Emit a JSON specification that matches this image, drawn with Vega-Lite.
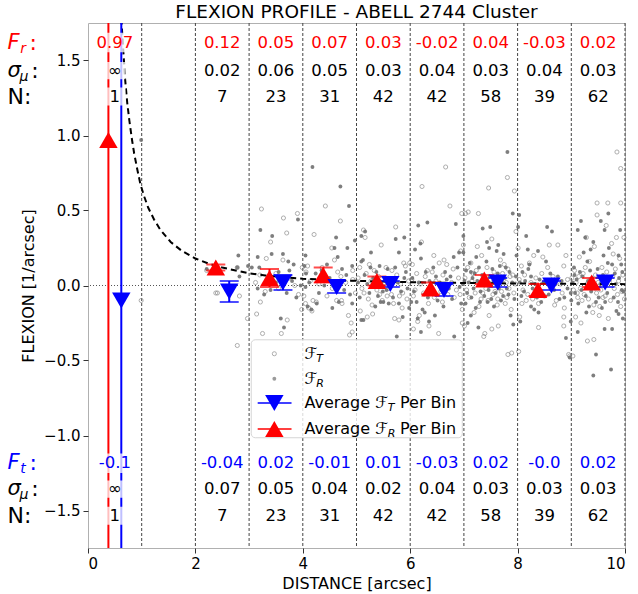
{
"$schema": "https://vega.github.io/schema/vega-lite/v6.json",
"width": 537, "height": 525,
"autosize": {"type": "none"},
"padding": {"left": 88, "top": 23, "right": 13, "bottom": 46},
"title": {"text": "FLEXION PROFILE - ABELL 2744 Cluster", "font": "DejaVu Sans", "fontSize": 18.5, "fontWeight": "normal", "color": "#000", "offset": 1},
"config": {
  "view": {"stroke": "#b0b0b0"},
  "axis": {"labelFont": "DejaVu Sans", "labelFontSize": 15, "titleFont": "DejaVu Sans", "titleFontSize": 16, "titleFontWeight": "normal", "labelColor": "#000", "titleColor": "#000", "tickColor": "#333", "tickSize": 5, "domain": false, "grid": false}
},
"datasets": {
  "bins": [{"v":1},{"v":2},{"v":3},{"v":4},{"v":5},{"v":6},{"v":7},{"v":8},{"v":9},{"v":10}],
  "zero": [{"h":0}],
  "curve": [{"x":0.62,"y":1.78},{"x":0.66,"y":1.55},{"x":0.69,"y":1.38},{"x":0.73,"y":1.22},{"x":0.77,"y":1.1},{"x":0.82,"y":0.97},{"x":0.86,"y":0.88},{"x":0.92,"y":0.77},{"x":0.98,"y":0.67},{"x":1.05,"y":0.59},{"x":1.12,"y":0.52},{"x":1.23,"y":0.44},{"x":1.35,"y":0.37},{"x":1.54,"y":0.29},{"x":1.75,"y":0.23},{"x":2.0,"y":0.18},{"x":2.25,"y":0.145},{"x":2.5,"y":0.12},{"x":2.75,"y":0.1},{"x":3.0,"y":0.082},{"x":3.3,"y":0.067},{"x":3.6,"y":0.056},{"x":4.0,"y":0.045},{"x":4.5,"y":0.037},{"x":5.0,"y":0.031},{"x":5.5,"y":0.026},{"x":6.0,"y":0.022},{"x":6.5,"y":0.019},{"x":7.0,"y":0.017},{"x":7.5,"y":0.015},{"x":8.0,"y":0.013},{"x":8.5,"y":0.012},{"x":9.0,"y":0.011},{"x":9.5,"y":0.01},{"x":10.0,"y":0.009}],
  "ft": [
{"x":0.99,"y":-0.1},
{"x":2.21,"y":0.1},{"x":2.38,"y":-0.05},{"x":2.41,"y":-0.05},{"x":2.78,"y":0.12},{"x":2.82,"y":-0.07},{"x":2.78,"y":-0.4},{"x":2.97,"y":-0.22},
{"x":3.23,"y":0.51},{"x":3.64,"y":0.45},{"x":3.7,"y":0.35},{"x":3.9,"y":0.48},{"x":3.4,"y":0.29},{"x":3.32,"y":0.18},{"x":3.63,"y":0.17},{"x":3.99,"y":0.12},{"x":3.2,"y":0.07},{"x":3.21,"y":-0.11},{"x":3.14,"y":-0.19},{"x":3.71,"y":-0.23},{"x":3.25,"y":-0.32},{"x":3.6,"y":-0.32},{"x":3.98,"y":-0.16},{"x":3.45,"y":0.03},{"x":3.55,"y":-0.02},{"x":3.75,"y":0.05},{"x":3.85,"y":0.0},{"x":3.5,"y":0.08},{"x":3.3,"y":-0.04},{"x":3.92,"y":-0.06},{"x":3.12,"y":0.02},
{"x":4.42,"y":0.53},{"x":4.7,"y":0.43},{"x":4.21,"y":0.34},{"x":4.54,"y":0.25},{"x":4.59,"y":0.17},{"x":4.09,"y":0.13},{"x":4.06,"y":0.09},{"x":4.65,"y":0.09},{"x":4.71,"y":0.06},{"x":4.93,"y":0.1},{"x":4.93,"y":0.04},{"x":4.45,"y":-0.07},{"x":4.05,"y":-0.12},{"x":4.17,"y":-0.17},{"x":4.11,"y":-0.15},{"x":4.73,"y":-0.12},{"x":4.85,"y":-0.2},{"x":4.9,"y":-0.25},{"x":4.92,"y":-0.31},{"x":4.02,"y":-0.07},{"x":4.19,"y":-0.1},{"x":4.25,"y":-0.11},{"x":4.63,"y":-0.1},{"x":4.72,"y":-0.1},{"x":4.87,"y":-0.33},{"x":4.36,"y":0.12},{"x":4.8,"y":0.02},{"x":4.3,"y":0.01},{"x":4.55,"y":-0.02},{"x":4.14,"y":0.03},{"x":4.98,"y":-0.05},
{"x":5.13,"y":0.37},{"x":5.16,"y":0.32},{"x":5.73,"y":0.39},{"x":5.46,"y":0.27},{"x":5.24,"y":0.14},{"x":5.66,"y":0.1},{"x":5.06,"y":0.12},{"x":5.88,"y":0.15},{"x":5.35,"y":0.0},{"x":5.14,"y":-0.05},{"x":5.43,"y":-0.06},{"x":5.57,"y":-0.07},{"x":5.65,"y":-0.06},{"x":5.29,"y":-0.13},{"x":5.8,"y":-0.07},{"x":5.85,"y":-0.15},{"x":5.07,"y":-0.17},{"x":5.3,"y":-0.19},{"x":5.2,"y":-0.21},{"x":5.71,"y":-0.22},{"x":5.79,"y":-0.23},{"x":5.86,"y":-0.05},{"x":5.99,"y":0.15},{"x":5.91,"y":0.13},{"x":5.03,"y":0.05},{"x":5.1,"y":-0.02},{"x":5.18,"y":0.08},{"x":5.22,"y":-0.09},{"x":5.27,"y":0.03},{"x":5.33,"y":0.1},{"x":5.38,"y":-0.03},{"x":5.41,"y":0.06},{"x":5.48,"y":-0.1},{"x":5.52,"y":0.02},{"x":5.55,"y":0.12},{"x":5.6,"y":-0.02},{"x":5.63,"y":0.04},{"x":5.69,"y":-0.12},{"x":5.75,"y":0.07},{"x":5.82,"y":0.01},{"x":5.94,"y":-0.09},{"x":5.97,"y":0.03},
{"x":6.66,"y":0.79},{"x":6.22,"y":0.66},{"x":6.74,"y":0.53},{"x":6.96,"y":0.48},{"x":6.21,"y":0.29},{"x":6.63,"y":0.17},{"x":6.54,"y":0.15},{"x":6.68,"y":0.14},{"x":6.32,"y":0.1},{"x":6.99,"y":0.27},{"x":6.94,"y":0.23},{"x":6.04,"y":0.14},{"x":6.19,"y":0.01},{"x":6.06,"y":-0.07},{"x":6.34,"y":-0.12},{"x":6.6,"y":-0.11},{"x":6.82,"y":-0.08},{"x":6.17,"y":-0.2},{"x":6.14,"y":-0.24},{"x":6.35,"y":-0.27},{"x":6.06,"y":-0.29},{"x":6.53,"y":-0.32},{"x":6.97,"y":-0.16},{"x":6.97,"y":-0.25},{"x":6.93,"y":-0.06},{"x":6.03,"y":0.04},{"x":6.09,"y":-0.03},{"x":6.12,"y":0.08},{"x":6.25,"y":-0.05},{"x":6.28,"y":0.06},{"x":6.38,"y":-0.02},{"x":6.41,"y":0.09},{"x":6.45,"y":-0.08},{"x":6.48,"y":0.03},{"x":6.57,"y":-0.04},{"x":6.61,"y":0.07},{"x":6.7,"y":-0.06},{"x":6.77,"y":0.02},{"x":6.8,"y":0.11},{"x":6.86,"y":-0.03},{"x":6.9,"y":0.05},{"x":6.44,"y":0.2},
{"x":7.81,"y":0.72},{"x":7.46,"y":0.65},{"x":7.94,"y":0.63},{"x":7.08,"y":0.49},{"x":7.03,"y":0.48},{"x":7.27,"y":0.48},{"x":7.97,"y":0.36},{"x":7.52,"y":0.31},{"x":7.25,"y":0.26},{"x":7.13,"y":0.15},{"x":7.33,"y":0.2},{"x":7.75,"y":0.14},{"x":7.91,"y":0.07},{"x":7.82,"y":0.11},{"x":7.35,"y":-0.05},{"x":7.58,"y":-0.04},{"x":7.28,"y":-0.14},{"x":7.19,"y":-0.18},{"x":7.47,"y":-0.2},{"x":7.63,"y":-0.09},{"x":7.8,"y":-0.08},{"x":7.39,"y":-0.32},{"x":7.37,"y":-0.34},{"x":7.52,"y":-0.29},{"x":7.64,"y":-0.27},{"x":7.82,"y":-0.46},{"x":7.89,"y":-0.45},{"x":7.01,"y":-0.27},{"x":7.02,"y":0.05},{"x":7.05,"y":-0.03},{"x":7.07,"y":0.12},{"x":7.1,"y":-0.08},{"x":7.15,"y":0.03},{"x":7.17,"y":0.08},{"x":7.21,"y":-0.05},{"x":7.23,"y":0.1},{"x":7.3,"y":0.02},{"x":7.32,"y":-0.09},{"x":7.36,"y":0.06},{"x":7.41,"y":-0.02},{"x":7.43,"y":0.12},{"x":7.45,"y":-0.1},{"x":7.49,"y":0.04},{"x":7.54,"y":-0.06},{"x":7.56,"y":0.09},{"x":7.6,"y":0.01},{"x":7.62,"y":-0.13},{"x":7.66,"y":0.05},{"x":7.68,"y":0.17},{"x":7.7,"y":-0.04},{"x":7.72,"y":0.08},{"x":7.77,"y":-0.12},{"x":7.79,"y":0.02},{"x":7.84,"y":-0.02},{"x":7.86,"y":0.06},{"x":7.88,"y":-0.16},{"x":7.93,"y":-0.05},{"x":7.96,"y":0.01},
{"x":8.59,"y":0.27},{"x":8.75,"y":0.27},{"x":8.9,"y":0.2},{"x":8.3,"y":0.2},{"x":8.47,"y":0.19},{"x":8.01,"y":0.25},{"x":8.07,"y":0.13},{"x":8.22,"y":0.15},{"x":8.86,"y":0.13},{"x":8.56,"y":0.12},{"x":8.08,"y":-0.12},{"x":8.16,"y":-0.1},{"x":8.39,"y":-0.12},{"x":8.72,"y":-0.1},{"x":8.04,"y":-0.21},{"x":8.87,"y":-0.15},{"x":8.86,"y":-0.21},{"x":8.86,"y":-0.27},{"x":8.39,"y":-0.28},{"x":8.02,"y":-0.44},{"x":8.95,"y":-0.46},{"x":8.97,"y":-0.47},{"x":8.03,"y":0.04},{"x":8.1,"y":-0.03},{"x":8.13,"y":0.07},{"x":8.19,"y":-0.06},{"x":8.25,"y":0.02},{"x":8.28,"y":-0.09},{"x":8.34,"y":0.05},{"x":8.42,"y":-0.04},{"x":8.45,"y":0.08},{"x":8.5,"y":-0.07},{"x":8.53,"y":0.03},{"x":8.62,"y":-0.02},{"x":8.66,"y":0.06},{"x":8.69,"y":-0.13},{"x":8.8,"y":0.01},{"x":8.83,"y":-0.05},{"x":8.93,"y":0.04},
{"x":9.85,"y":0.89},{"x":9.92,"y":0.78},{"x":9.48,"y":0.55},{"x":9.68,"y":0.55},{"x":9.92,"y":0.55},{"x":9.48,"y":0.47},{"x":9.84,"y":0.32},{"x":9.28,"y":0.32},{"x":9.43,"y":0.26},{"x":9.75,"y":0.28},{"x":9.98,"y":0.32},{"x":9.15,"y":0.19},{"x":9.34,"y":0.16},{"x":9.78,"y":0.21},{"x":9.57,"y":0.12},{"x":9.11,"y":-0.05},{"x":9.2,"y":-0.1},{"x":9.59,"y":-0.08},{"x":9.42,"y":-0.13},{"x":9.53,"y":-0.14},{"x":9.92,"y":-0.14},{"x":9.18,"y":-0.25},{"x":9.4,"y":-0.18},{"x":9.69,"y":-0.22},{"x":9.3,"y":-0.37},{"x":9.42,"y":-0.36},{"x":9.08,"y":-0.21},{"x":9.03,"y":-0.47},{"x":9.01,"y":0.05},{"x":9.04,"y":-0.03},{"x":9.06,"y":0.1},{"x":9.09,"y":0.02},{"x":9.12,"y":-0.08},{"x":9.14,"y":0.06},{"x":9.17,"y":-0.02},{"x":9.22,"y":0.08},{"x":9.24,"y":-0.06},{"x":9.26,"y":0.12},{"x":9.29,"y":0.01},{"x":9.32,"y":-0.09},{"x":9.36,"y":0.04},{"x":9.38,"y":-0.02},{"x":9.45,"y":0.07},{"x":9.47,"y":-0.05},{"x":9.5,"y":0.02},{"x":9.55,"y":-0.03},{"x":9.61,"y":0.05},{"x":9.63,"y":-0.07},{"x":9.66,"y":0.09},{"x":9.71,"y":0.02},{"x":9.73,"y":-0.1},{"x":9.77,"y":0.06},{"x":9.8,"y":-0.02},{"x":9.82,"y":0.11},{"x":9.86,"y":-0.06},{"x":9.88,"y":0.03},{"x":9.9,"y":0.18},{"x":9.94,"y":-0.04},{"x":9.96,"y":0.07},{"x":9.99,"y":-0.09},{"x":9.52,"y":-0.2},{"x":9.65,"y":0.4}
  ],
  "fr": [
{"x":0.99,"y":0.97},
{"x":2.8,"y":0.2},{"x":2.82,"y":0.06},{"x":2.98,"y":0.13},{"x":2.21,"y":0.11},{"x":2.38,"y":0.11},{"x":2.41,"y":0.12},{"x":2.78,"y":0.12},
{"x":3.91,"y":0.44},{"x":3.21,"y":0.37},{"x":3.43,"y":0.33},{"x":3.16,"y":0.19},{"x":3.42,"y":0.21},{"x":3.63,"y":0.21},{"x":3.73,"y":0.16},{"x":3.83,"y":0.14},{"x":3.19,"y":0.12},{"x":3.16,"y":-0.02},{"x":3.4,"y":-0.03},{"x":3.59,"y":-0.22},{"x":3.65,"y":-0.28},{"x":3.96,"y":0.0},{"x":3.35,"y":0.06},{"x":3.5,"y":0.02},{"x":3.7,"y":-0.05},{"x":3.8,"y":0.03},{"x":3.88,"y":-0.08},{"x":3.55,"y":0.09},{"x":3.28,"y":-0.06},{"x":3.75,"y":0.1},{"x":3.05,"y":0.12},
{"x":4.18,"y":0.79},{"x":4.7,"y":0.66},{"x":4.86,"y":0.53},{"x":4.59,"y":0.25},{"x":4.83,"y":0.25},{"x":4.65,"y":0.19},{"x":4.05,"y":0.2},{"x":4.06,"y":0.08},{"x":4.73,"y":0.11},{"x":4.92,"y":0.13},{"x":4.24,"y":0.08},{"x":4.81,"y":0.07},{"x":4.05,"y":-0.01},{"x":4.26,"y":-0.12},{"x":4.67,"y":-0.11},{"x":4.92,"y":-0.12},{"x":4.16,"y":-0.16},{"x":4.09,"y":-0.14},{"x":4.03,"y":0.13},{"x":4.5,"y":0.05},{"x":4.4,"y":0.0},{"x":4.35,"y":0.1},{"x":4.6,"y":0.03},{"x":4.77,"y":-0.03},{"x":4.12,"y":0.02},{"x":4.97,"y":0.3},{"x":4.3,"y":-0.05},{"x":4.55,"y":-0.15},{"x":4.45,"y":0.14},{"x":4.88,"y":-0.06},{"x":4.62,"y":0.32},
{"x":5.09,"y":0.33},{"x":5.16,"y":0.36},{"x":5.73,"y":0.31},{"x":5.89,"y":0.32},{"x":5.27,"y":0.22},{"x":5.79,"y":0.22},{"x":5.12,"y":0.17},{"x":5.09,"y":0.16},{"x":5.43,"y":0.13},{"x":5.58,"y":0.11},{"x":5.72,"y":0.12},{"x":5.15,"y":0.07},{"x":5.89,"y":0.05},{"x":5.43,"y":0.03},{"x":5.49,"y":-0.04},{"x":5.6,"y":-0.12},{"x":5.45,"y":-0.11},{"x":5.5,"y":-0.11},{"x":5.35,"y":-0.14},{"x":5.79,"y":-0.12},{"x":5.09,"y":-0.23},{"x":5.13,"y":-0.23},{"x":5.86,"y":-0.21},{"x":5.75,"y":-0.34},{"x":5.98,"y":-0.15},{"x":5.62,"y":0.0},{"x":5.03,"y":0.02},{"x":5.06,"y":-0.08},{"x":5.2,"y":0.01},{"x":5.24,"y":-0.05},{"x":5.31,"y":0.05},{"x":5.37,"y":0.09},{"x":5.4,"y":-0.07},{"x":5.53,"y":0.04},{"x":5.56,"y":-0.03},{"x":5.66,"y":0.05},{"x":5.68,"y":-0.08},{"x":5.77,"y":0.02},{"x":5.83,"y":-0.04},{"x":5.92,"y":0.09},{"x":5.95,"y":-0.02},{"x":5.26,"y":0.12},
{"x":6.32,"y":0.42},{"x":6.15,"y":0.4},{"x":6.85,"y":0.41},{"x":6.19,"y":0.28},{"x":6.09,"y":0.24},{"x":6.91,"y":0.22},{"x":6.81,"y":0.19},{"x":6.2,"y":0.18},{"x":6.88,"y":0.12},{"x":6.48,"y":0.06},{"x":6.68,"y":0.04},{"x":6.02,"y":-0.11},{"x":6.12,"y":-0.11},{"x":6.33,"y":-0.08},{"x":6.62,"y":-0.14},{"x":6.23,"y":-0.16},{"x":6.35,"y":-0.24},{"x":6.14,"y":-0.22},{"x":6.2,"y":-0.31},{"x":6.82,"y":-0.34},{"x":6.98,"y":0.01},{"x":6.99,"y":0.22},{"x":6.99,"y":0.33},{"x":6.04,"y":0.05},{"x":6.07,"y":-0.04},{"x":6.16,"y":0.02},{"x":6.26,"y":-0.06},{"x":6.29,"y":0.09},{"x":6.36,"y":0.03},{"x":6.4,"y":-0.05},{"x":6.43,"y":0.12},{"x":6.51,"y":-0.1},{"x":6.55,"y":0.02},{"x":6.58,"y":-0.03},{"x":6.65,"y":0.09},{"x":6.72,"y":-0.02},{"x":6.75,"y":0.06},{"x":6.78,"y":-0.09},{"x":6.92,"y":-0.01},{"x":6.95,"y":-0.12},{"x":6.27,"y":-0.18},{"x":6.46,"y":-0.2},
{"x":7.81,"y":0.89},{"x":7.91,"y":0.48},{"x":7.49,"y":0.39},{"x":7.35,"y":0.38},{"x":7.64,"y":0.27},{"x":7.43,"y":0.29},{"x":7.47,"y":0.25},{"x":7.23,"y":0.19},{"x":7.61,"y":0.23},{"x":7.13,"y":0.09},{"x":7.78,"y":0.12},{"x":7.3,"y":-0.11},{"x":7.44,"y":-0.11},{"x":7.56,"y":-0.14},{"x":7.27,"y":-0.28},{"x":7.07,"y":-0.25},{"x":7.92,"y":-0.26},{"x":7.13,"y":-0.2},{"x":7.8,"y":-0.02},{"x":7.69,"y":-0.1},{"x":7.03,"y":-0.12},{"x":7.98,"y":0.2},{"x":7.01,"y":0.03},{"x":7.04,"y":0.1},{"x":7.06,"y":-0.05},{"x":7.09,"y":0.02},{"x":7.11,"y":0.15},{"x":7.14,"y":-0.08},{"x":7.16,"y":0.05},{"x":7.18,"y":-0.02},{"x":7.2,"y":0.08},{"x":7.22,"y":-0.15},{"x":7.25,"y":0.03},{"x":7.28,"y":0.12},{"x":7.31,"y":-0.04},{"x":7.34,"y":0.07},{"x":7.38,"y":-0.07},{"x":7.4,"y":0.01},{"x":7.42,"y":0.16},{"x":7.46,"y":-0.03},{"x":7.48,"y":0.06},{"x":7.51,"y":-0.09},{"x":7.53,"y":0.11},{"x":7.55,"y":0.02},{"x":7.59,"y":-0.05},{"x":7.63,"y":0.08},{"x":7.65,"y":-0.02},{"x":7.67,"y":0.13},{"x":7.71,"y":0.03},{"x":7.73,"y":-0.07},{"x":7.74,"y":0.21},{"x":7.76,"y":0.05},{"x":7.83,"y":-0.06},{"x":7.85,"y":0.09},{"x":7.87,"y":-0.2},{"x":7.9,"y":0.02},{"x":7.94,"y":-0.09},{"x":7.97,"y":0.06},
{"x":8.03,"y":0.47},{"x":8.55,"y":0.39},{"x":8.64,"y":0.36},{"x":8.16,"y":0.33},{"x":8.19,"y":0.24},{"x":8.38,"y":0.23},{"x":8.53,"y":0.16},{"x":8.2,"y":0.11},{"x":8.25,"y":0.06},{"x":8.75,"y":0.06},{"x":8.22,"y":0.14},{"x":8.01,"y":0.39},{"x":8.07,"y":-0.07},{"x":8.25,"y":-0.14},{"x":8.31,"y":-0.16},{"x":8.39,"y":-0.18},{"x":8.9,"y":-0.35},{"x":8.05,"y":-0.24},{"x":8.99,"y":-0.24},{"x":8.99,"y":-0.05},{"x":8.87,"y":-0.08},{"x":8.97,"y":-0.48},{"x":8.04,"y":0.02},{"x":8.09,"y":0.09},{"x":8.12,"y":-0.04},{"x":8.14,"y":0.03},{"x":8.28,"y":-0.02},{"x":8.33,"y":0.01},{"x":8.36,"y":-0.08},{"x":8.41,"y":0.04},{"x":8.44,"y":-0.11},{"x":8.48,"y":0.02},{"x":8.58,"y":-0.06},{"x":8.61,"y":0.08},{"x":8.68,"y":-0.03},{"x":8.71,"y":0.01},{"x":8.78,"y":-0.09},{"x":8.82,"y":0.03},{"x":8.93,"y":-0.02},
{"x":9.18,"y":0.43},{"x":9.69,"y":0.48},{"x":9.62,"y":0.37},{"x":9.91,"y":0.37},{"x":9.12,"y":0.37},{"x":9.41,"y":0.29},{"x":9.26,"y":0.32},{"x":9.68,"y":0.15},{"x":9.88,"y":0.2},{"x":9.93,"y":0.14},{"x":9.76,"y":0.14},{"x":9.06,"y":0.07},{"x":9.3,"y":0.16},{"x":9.46,"y":-0.11},{"x":9.63,"y":-0.11},{"x":9.94,"y":-0.03},{"x":9.28,"y":-0.18},{"x":9.84,"y":-0.17},{"x":9.88,"y":-0.19},{"x":9.96,"y":-0.22},{"x":9.12,"y":-0.31},{"x":9.62,"y":-0.29},{"x":9.76,"y":-0.29},{"x":9.46,"y":-0.46},{"x":9.41,"y":-0.6},{"x":9.74,"y":-0.56},{"x":9.0,"y":-0.1},{"x":9.55,"y":0.43},{"x":9.02,"y":0.02},{"x":9.05,"y":0.12},{"x":9.07,"y":-0.05},{"x":9.1,"y":0.04},{"x":9.13,"y":-0.12},{"x":9.16,"y":0.09},{"x":9.19,"y":-0.03},{"x":9.21,"y":0.06},{"x":9.23,"y":0.22},{"x":9.27,"y":-0.07},{"x":9.31,"y":0.03},{"x":9.33,"y":-0.14},{"x":9.35,"y":0.1},{"x":9.37,"y":-0.04},{"x":9.39,"y":0.05},{"x":9.44,"y":-0.02},{"x":9.49,"y":0.11},{"x":9.51,"y":-0.08},{"x":9.54,"y":0.01},{"x":9.57,"y":-0.15},{"x":9.59,"y":0.07},{"x":9.64,"y":0.02},{"x":9.67,"y":-0.05},{"x":9.7,"y":0.25},{"x":9.72,"y":0.04},{"x":9.79,"y":-0.08},{"x":9.81,"y":0.08},{"x":9.83,"y":0.01},{"x":9.87,"y":-0.11},{"x":9.89,"y":0.05},{"x":9.95,"y":0.09},{"x":9.97,"y":-0.04},{"x":9.6,"y":0.2},{"x":9.36,"y":0.24}
  ],
  "avg": [
{"x":0.38,"m":0.97,"lo":-5,"hi":5,"k":"R"},{"x":2.38,"m":0.12,"lo":0.10,"hi":0.14,"k":"R"},{"x":3.38,"m":0.05,"lo":-0.01,"hi":0.11,"k":"R"},{"x":4.38,"m":0.07,"lo":0.02,"hi":0.12,"k":"R"},{"x":5.38,"m":0.03,"lo":0.0,"hi":0.06,"k":"R"},{"x":6.38,"m":-0.02,"lo":-0.06,"hi":0.02,"k":"R"},{"x":7.38,"m":0.04,"lo":0.01,"hi":0.07,"k":"R"},{"x":8.38,"m":-0.03,"lo":-0.07,"hi":0.01,"k":"R"},{"x":9.38,"m":0.02,"lo":-0.01,"hi":0.05,"k":"R"},
{"x":0.62,"m":-0.1,"lo":-5,"hi":5,"k":"T"},{"x":2.63,"m":-0.04,"lo":-0.11,"hi":0.03,"k":"T"},{"x":3.63,"m":0.02,"lo":-0.03,"hi":0.07,"k":"T"},{"x":4.63,"m":-0.01,"lo":-0.05,"hi":0.03,"k":"T"},{"x":5.63,"m":0.01,"lo":-0.01,"hi":0.03,"k":"T"},{"x":6.63,"m":-0.03,"lo":-0.07,"hi":0.01,"k":"T"},{"x":7.63,"m":0.02,"lo":-0.01,"hi":0.05,"k":"T"},{"x":8.63,"m":0.0,"lo":-0.03,"hi":0.03,"k":"T"},{"x":9.63,"m":0.02,"lo":-0.01,"hi":0.05,"k":"T"}
  ],
  "tbox": [{"x1":0.2,"x2":0.8,"y1":1.555,"y2":1.685},{"x1":0.3,"x2":0.7,"y1":1.375,"y2":1.49},{"x1":0.3,"x2":0.7,"y1":1.2,"y2":1.32},{"x1":0.22,"x2":0.78,"y1":-1.12,"y2":-1.25},{"x1":0.3,"x2":0.7,"y1":-1.3,"y2":-1.415},{"x1":0.3,"x2":0.7,"y1":-1.475,"y2":-1.595}],
  "ann": [
{"x":0.5,"y":1.62,"t":"0.97","k":"R"},{"x":2.5,"y":1.62,"t":"0.12","k":"R"},{"x":3.5,"y":1.62,"t":"0.05","k":"R"},{"x":4.5,"y":1.62,"t":"0.07","k":"R"},{"x":5.5,"y":1.62,"t":"0.03","k":"R"},{"x":6.5,"y":1.62,"t":"-0.02","k":"R"},{"x":7.5,"y":1.62,"t":"0.04","k":"R"},{"x":8.5,"y":1.62,"t":"-0.03","k":"R"},{"x":9.5,"y":1.62,"t":"0.02","k":"R"},
{"x":0.5,"y":1.433,"t":"∞","k":"K"},{"x":2.5,"y":1.433,"t":"0.02","k":"K"},{"x":3.5,"y":1.433,"t":"0.06","k":"K"},{"x":4.5,"y":1.433,"t":"0.05","k":"K"},{"x":5.5,"y":1.433,"t":"0.03","k":"K"},{"x":6.5,"y":1.433,"t":"0.04","k":"K"},{"x":7.5,"y":1.433,"t":"0.03","k":"K"},{"x":8.5,"y":1.433,"t":"0.04","k":"K"},{"x":9.5,"y":1.433,"t":"0.03","k":"K"},
{"x":0.5,"y":1.26,"t":"1","k":"K"},{"x":2.5,"y":1.26,"t":"7","k":"K"},{"x":3.5,"y":1.26,"t":"23","k":"K"},{"x":4.5,"y":1.26,"t":"31","k":"K"},{"x":5.5,"y":1.26,"t":"42","k":"K"},{"x":6.5,"y":1.26,"t":"42","k":"K"},{"x":7.5,"y":1.26,"t":"58","k":"K"},{"x":8.5,"y":1.26,"t":"39","k":"K"},{"x":9.5,"y":1.26,"t":"62","k":"K"},
{"x":0.5,"y":-1.184,"t":"-0.1","k":"T"},{"x":2.5,"y":-1.184,"t":"-0.04","k":"T"},{"x":3.5,"y":-1.184,"t":"0.02","k":"T"},{"x":4.5,"y":-1.184,"t":"-0.01","k":"T"},{"x":5.5,"y":-1.184,"t":"0.01","k":"T"},{"x":6.5,"y":-1.184,"t":"-0.03","k":"T"},{"x":7.5,"y":-1.184,"t":"0.02","k":"T"},{"x":8.5,"y":-1.184,"t":"-0.0","k":"T"},{"x":9.5,"y":-1.184,"t":"0.02","k":"T"},
{"x":0.5,"y":-1.357,"t":"∞","k":"K"},{"x":2.5,"y":-1.357,"t":"0.07","k":"K"},{"x":3.5,"y":-1.357,"t":"0.05","k":"K"},{"x":4.5,"y":-1.357,"t":"0.04","k":"K"},{"x":5.5,"y":-1.357,"t":"0.02","k":"K"},{"x":6.5,"y":-1.357,"t":"0.04","k":"K"},{"x":7.5,"y":-1.357,"t":"0.03","k":"K"},{"x":8.5,"y":-1.357,"t":"0.03","k":"K"},{"x":9.5,"y":-1.357,"t":"0.03","k":"K"},
{"x":0.5,"y":-1.535,"t":"1","k":"K"},{"x":2.5,"y":-1.535,"t":"7","k":"K"},{"x":3.5,"y":-1.535,"t":"23","k":"K"},{"x":4.5,"y":-1.535,"t":"31","k":"K"},{"x":5.5,"y":-1.535,"t":"42","k":"K"},{"x":6.5,"y":-1.535,"t":"42","k":"K"},{"x":7.5,"y":-1.535,"t":"58","k":"K"},{"x":8.5,"y":-1.535,"t":"39","k":"K"},{"x":9.5,"y":-1.535,"t":"62","k":"K"}
  ],
  "labI": [{"x":-1.5,"y":1.62,"t":"F","k":"R"},{"x":-1.5,"y":1.433,"t":"σ","k":"K"},{"x":-1.5,"y":-1.184,"t":"F","k":"T"},{"x":-1.5,"y":-1.357,"t":"σ","k":"K"}],
  "labS": [{"x":-1.262,"y":1.62,"t":"r","k":"R"},{"x":-1.275,"y":1.433,"t":"μ","k":"K"},{"x":-1.262,"y":-1.184,"t":"t","k":"T"},{"x":-1.275,"y":-1.357,"t":"μ","k":"K"}],
  "labN": [{"x":-1.089,"y":1.62,"t":":","k":"R"},{"x":-1.058,"y":1.433,"t":":","k":"K"},{"x":-1.5,"y":1.26,"t":"N:","k":"K"},{"x":-1.089,"y":-1.184,"t":":","k":"T"},{"x":-1.058,"y":-1.357,"t":":","k":"K"},{"x":-1.5,"y":-1.535,"t":"N:","k":"K"}],
  "legbox": [{"x1":3.04,"x2":6.97,"y1":-0.362,"y2":-1.015}],
  "leglines": [{"x1":3.16,"x2":3.79,"y":-0.784,"k":"T"},{"x1":3.16,"x2":3.79,"y":-0.957,"k":"R"}],
  "legopen": [{"x":3.47,"y":-0.455}],
  "legfill": [{"x":3.47,"y":-0.622}],
  "legtri": [{"x":3.47,"y":-0.784,"k":"T"},{"x":3.47,"y":-0.957,"k":"R"}],
  "legtext": [{"x":4.03,"y":-0.455,"t":"ℱ"},{"x":4.03,"y":-0.622,"t":"ℱ"},{"x":4.03,"y":-0.784,"t":"Average ℱ"},{"x":5.81,"y":-0.784,"t":"Per Bin"},{"x":4.03,"y":-0.957,"t":"Average ℱ"},{"x":5.81,"y":-0.957,"t":"Per Bin"}],
  "legsub": [{"x":4.25,"y":-0.455,"t":"T"},{"x":4.25,"y":-0.622,"t":"R"},{"x":5.58,"y":-0.784,"t":"T"},{"x":5.58,"y":-0.957,"t":"R"}]
},
"layer": [
  {"data": {"name": "bins"}, "mark": {"type": "rule", "color": "#444", "strokeWidth": 1, "strokeDash": [3, 2]},
   "encoding": {"x": {"field": "v", "type": "quantitative", "scale": {"domain": [0, 10], "nice": false, "zero": false}, "axis": {"values": [0, 2, 4, 6, 8, 10], "title": "DISTANCE [arcsec]", "labelPadding": 3, "titlePadding": 4}}}},
  {"data": {"name": "zero"}, "mark": {"type": "rule", "color": "#555", "strokeWidth": 1, "strokeDash": [1, 2]},
   "encoding": {"y": {"field": "h", "type": "quantitative", "scale": {"domain": [-1.75, 1.75], "nice": false, "zero": false}, "axis": {"values": [-1.5, -1, -0.5, 0, 0.5, 1, 1.5], "format": ".1f", "title": "FLEXION [1/arcsec]", "labelPadding": 3, "titlePadding": 7}}}},
  {"data": {"name": "ft"}, "mark": {"type": "point", "shape": "circle", "filled": false, "color": "#808080", "size": 17, "strokeWidth": 0.9},
   "encoding": {"x": {"field": "x", "type": "quantitative"}, "y": {"field": "y", "type": "quantitative"}}},
  {"data": {"name": "fr"}, "mark": {"type": "circle", "color": "#707070", "size": 15, "opacity": 0.9},
   "encoding": {"x": {"field": "x", "type": "quantitative"}, "y": {"field": "y", "type": "quantitative"}}},
  {"data": {"name": "curve"}, "mark": {"type": "line", "color": "#000", "strokeWidth": 2, "strokeDash": [6, 4], "clip": true},
   "encoding": {"x": {"field": "x", "type": "quantitative"}, "y": {"field": "y", "type": "quantitative"}}},
  {"data": {"name": "avg"}, "mark": {"type": "rule", "strokeWidth": 2, "clip": true},
   "encoding": {"x": {"field": "x", "type": "quantitative"}, "y": {"field": "lo", "type": "quantitative"}, "y2": {"field": "hi"},
     "color": {"field": "k", "type": "nominal", "scale": {"domain": ["R", "T", "K"], "range": ["#ff0000", "#0000ff", "#000000"]}, "legend": null}}},
  {"data": {"name": "avg"}, "mark": {"type": "tick", "orient": "horizontal", "size": 19, "thickness": 2, "clip": true},
   "encoding": {"x": {"field": "x", "type": "quantitative"}, "y": {"field": "lo", "type": "quantitative"},
     "color": {"field": "k", "type": "nominal", "legend": null}}},
  {"data": {"name": "avg"}, "mark": {"type": "tick", "orient": "horizontal", "size": 19, "thickness": 2, "clip": true},
   "encoding": {"x": {"field": "x", "type": "quantitative"}, "y": {"field": "hi", "type": "quantitative"},
     "color": {"field": "k", "type": "nominal", "legend": null}}},
  {"data": {"name": "avg"}, "mark": {"type": "point", "filled": true, "opacity": 1, "size": 340},
   "encoding": {"x": {"field": "x", "type": "quantitative"}, "y": {"field": "m", "type": "quantitative"},
     "color": {"field": "k", "type": "nominal", "legend": null},
     "shape": {"field": "k", "type": "nominal", "scale": {"domain": ["R", "T"], "range": ["triangle-up", "triangle-down"]}, "legend": null}}},
  {"data": {"name": "tbox"}, "mark": {"type": "rect", "fill": "#ffffff", "fillOpacity": 0.75},
   "encoding": {"x": {"field": "x1", "type": "quantitative"}, "x2": {"field": "x2"}, "y": {"field": "y1", "type": "quantitative"}, "y2": {"field": "y2"}}},
  {"data": {"name": "legbox"}, "mark": {"type": "rect", "fill": "#ffffff", "fillOpacity": 0.8, "stroke": "#d5d5d5", "strokeWidth": 1, "cornerRadius": 4},
   "encoding": {"x": {"field": "x1", "type": "quantitative"}, "x2": {"field": "x2"}, "y": {"field": "y1", "type": "quantitative"}, "y2": {"field": "y2"}}},
  {"data": {"name": "leglines"}, "mark": {"type": "rule", "strokeWidth": 1.5},
   "encoding": {"x": {"field": "x1", "type": "quantitative"}, "x2": {"field": "x2"}, "y": {"field": "y", "type": "quantitative"},
     "color": {"field": "k", "type": "nominal", "legend": null}}},
  {"data": {"name": "legopen"}, "mark": {"type": "point", "shape": "circle", "filled": false, "color": "#808080", "size": 17, "strokeWidth": 0.9},
   "encoding": {"x": {"field": "x", "type": "quantitative"}, "y": {"field": "y", "type": "quantitative"}}},
  {"data": {"name": "legfill"}, "mark": {"type": "circle", "color": "#707070", "size": 15},
   "encoding": {"x": {"field": "x", "type": "quantitative"}, "y": {"field": "y", "type": "quantitative"}}},
  {"data": {"name": "legtri"}, "mark": {"type": "point", "filled": true, "opacity": 1, "size": 340},
   "encoding": {"x": {"field": "x", "type": "quantitative"}, "y": {"field": "y", "type": "quantitative"},
     "color": {"field": "k", "type": "nominal", "legend": null},
     "shape": {"field": "k", "type": "nominal", "legend": null}}},
  {"data": {"name": "legtext"}, "mark": {"type": "text", "align": "left", "baseline": "middle", "font": "DejaVu Sans", "fontSize": 16, "color": "#000"},
   "encoding": {"x": {"field": "x", "type": "quantitative"}, "y": {"field": "y", "type": "quantitative"}, "text": {"field": "t"}}},
  {"data": {"name": "legsub"}, "mark": {"type": "text", "align": "left", "baseline": "middle", "font": "DejaVu Sans", "fontSize": 11, "fontStyle": "italic", "dy": 5, "color": "#000"},
   "encoding": {"x": {"field": "x", "type": "quantitative"}, "y": {"field": "y", "type": "quantitative"}, "text": {"field": "t"}}},
  {"data": {"name": "ann"}, "mark": {"type": "text", "align": "center", "baseline": "middle", "font": "DejaVu Sans", "fontSize": 16.5},
   "encoding": {"x": {"field": "x", "type": "quantitative"}, "y": {"field": "y", "type": "quantitative"}, "text": {"field": "t"},
     "color": {"field": "k", "type": "nominal", "legend": null}}},
  {"data": {"name": "labI"}, "mark": {"type": "text", "align": "left", "baseline": "middle", "font": "DejaVu Sans", "fontSize": 21, "fontStyle": "italic"},
   "encoding": {"x": {"field": "x", "type": "quantitative"}, "y": {"field": "y", "type": "quantitative"}, "text": {"field": "t"},
     "color": {"field": "k", "type": "nominal", "legend": null}}},
  {"data": {"name": "labS"}, "mark": {"type": "text", "align": "left", "baseline": "middle", "font": "DejaVu Sans", "fontSize": 14, "fontStyle": "italic", "dy": 6},
   "encoding": {"x": {"field": "x", "type": "quantitative"}, "y": {"field": "y", "type": "quantitative"}, "text": {"field": "t"},
     "color": {"field": "k", "type": "nominal", "legend": null}}},
  {"data": {"name": "labN"}, "mark": {"type": "text", "align": "left", "baseline": "middle", "font": "DejaVu Sans", "fontSize": 22},
   "encoding": {"x": {"field": "x", "type": "quantitative"}, "y": {"field": "y", "type": "quantitative"}, "text": {"field": "t"},
     "color": {"field": "k", "type": "nominal", "legend": null}}}
]
}
